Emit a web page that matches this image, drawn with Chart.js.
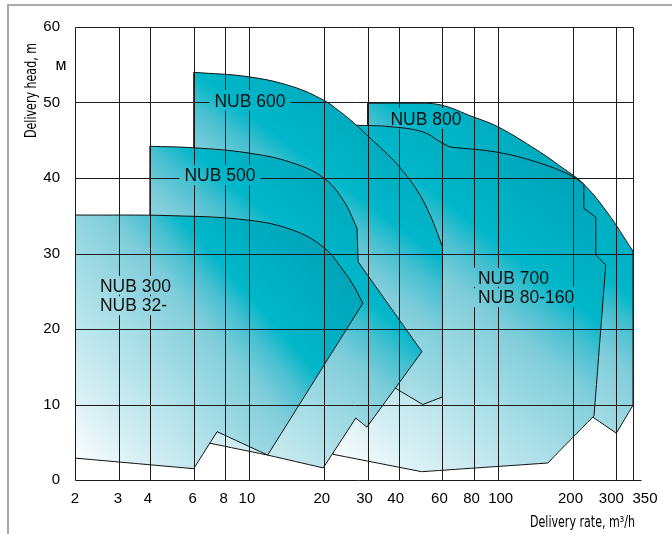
<!DOCTYPE html>
<html>
<head>
<meta charset="utf-8">
<script src="https://cdn.jsdelivr.net/npm/chart.js@4.4.1/dist/chart.umd.min.js"></script>
<style>
  html, body { margin: 0; padding: 0; background: #fff; }
  #wrap { position: relative; width: 672px; height: 534px; overflow: hidden; }
  #frame { position: absolute; left: 7px; top: 4px; width: 720px; height: 600px; border-left: 2px solid #aaa; border-top: 2px solid #aaa; }
  canvas { position: absolute; left: 0; top: 0; }
</style>
</head>
<body>
<div id="wrap"><div id="frame"></div><canvas id="chart" width="672" height="534"></canvas></div>
<script>
// axis ticks
const xTicks = [2, 3, 4, 6, 8, 10, 20, 30, 40, 60, 80, 100, 200, 300, 350];
const yTicks = [0, 10, 20, 30, 40, 50, 60];

// operating fields, closed outlines (delivery rate m3/h, delivery head m)
// *Smooth = indices of points lying on a curved part of the outline
const nub300Q = [2, 5, 10, 15, 20, 23.9, 26.5, 28.7, 11.9, 7.45, 6, 2, 2];
const nub300H = [35.1, 35.0, 34.4, 33.1, 30.8, 27.8, 25.6, 23.4, 3.3, 6.4, 1.5, 2.9, 35.1];
const nub300Smooth = [1, 2, 3, 4, 5, 6];

const nub500Q = [4, 6, 10, 15, 20, 23.9, 27.2, 27.5, 49.6, 29.8, 26.9, 19.9, 11.9, 6.9, 4, 4];
const nub500H = [44.2, 44.0, 43.3, 42.0, 40.0, 37.1, 33.4, 28.9, 17.0, 7.0, 8.2, 1.6, 3.3, 4.9, 5, 44.2];
const nub500Smooth = [1, 2, 3, 4, 5];

const nub600Q = [6, 10, 15, 20, 22.8, 26.2, 30, 34.6, 39.7, 47.4, 53.5, 60, 60, 50, 38.2, 25, 6, 6];
const nub600H = [54.0, 53.4, 52.1, 50.3, 49.0, 47.4, 45.6, 43.7, 41.7, 38.4, 35.1, 30.9, 11.0, 10.0, 12.3, 10, 10, 54.0];
const nub600Smooth = [1, 2, 3, 4, 5, 6, 7, 8, 9, 10];

const nub700Q = [22, 26.7, 36.9, 50.1, 58.6, 64.3, 100, 143.8, 195.2, 222, 222, 248, 248, 272, 244, 159, 49.5, 21.8, 22];
const nub700H = [46.6, 47.0, 46.8, 46.1, 44.8, 44.1, 43.4, 42.1, 40.4, 39.2, 36.0, 34.8, 29.8, 28.5, 8.5, 2.25, 1.1, 3.4, 46.6];
const nub700Smooth = [2, 3, 4, 6, 7, 8];

const nub800Q = [30, 45, 58.6, 79.6, 100, 143.8, 183, 220, 275, 350, 350, 300, 242, 100, 30, 30];
const nub800H = [49.9, 49.9, 49.7, 48.1, 46.8, 43.7, 41.3, 39.3, 35.5, 30.3, 9.9, 6.2, 8.3, 20, 30, 49.9];
const nub800Smooth = [1, 2, 3, 4, 5, 6, 7, 8];

// field labels (front to back, same order as datasets)
const fieldNames = ['NUB 300', 'NUB 500', 'NUB 600', 'NUB 700', 'NUB 800'];
const labelLines = [['NUB 300', 'NUB 32-'], ['NUB 500'], ['NUB 600'], ['NUB 700', 'NUB 80-160'], ['NUB 800']];
const labelQ = [2.52, 7.65, 10.1, 83.3, 51.5];
const labelH = [25.7, 40.4, 50.3, 26.75, 47.9];
const labelAlign = ['left', 'center', 'center', 'left', 'center'];

const fields = [
  [nub300Q, nub300H, nub300Smooth],
  [nub500Q, nub500H, nub500Smooth],
  [nub600Q, nub600H, nub600Smooth],
  [nub700Q, nub700H, nub700Smooth],
  [nub800Q, nub800H, nub800Smooth]
];

const tickNudge = { 3: -1, 4: -2, 6: -1, 8: -1, 10: -2, 20: -2, 30: -3, 40: -3, 60: -3, 80: -2, 100: 3, 200: -2, 300: -5, 350: 12 };
const mainFont = '"Liberation Sans", Arial, sans-serif';
const narrowFont = '"Liberation Sans Narrow", "DejaVu Sans Condensed", "Liberation Sans", sans-serif';

// corner points are doubled so the spline keeps them sharp
function outline(q, h, smooth) {
  const pts = [];
  q.forEach((v, i) => {
    pts.push({ x: v, y: h[i] });
    if (!smooth.includes(i)) pts.push({ x: v, y: h[i] });
  });
  return pts;
}

// gradient fill under every outline, drawn just before its border
const regionFill = {
  id: 'regionFill',
  beforeDatasetDraw(chart, args) {
    const meta = args.meta;
    const pts = meta.data;
    if (!pts.length) return;
    const ctx = chart.ctx;
    let x0 = Infinity, x1 = -Infinity, y0 = Infinity, y1 = -Infinity;
    pts.forEach(p => {
      x0 = Math.min(x0, p.x); x1 = Math.max(x1, p.x);
      y0 = Math.min(y0, p.y); y1 = Math.max(y1, p.y);
    });
    const g = ctx.createLinearGradient(x0, y1, x1, y0);
    g.addColorStop(0, '#ffffff');
    g.addColorStop(0.15, '#d6eff3');
    g.addColorStop(0.32, '#ade0e8');
    g.addColorStop(0.5, '#7fcdda');
    g.addColorStop(0.58, '#45c0d0');
    g.addColorStop(0.64, '#00b7c9');
    g.addColorStop(0.82, '#00a8bc');
    g.addColorStop(1, '#0096ad');
    ctx.save();
    ctx.beginPath();
    const line = meta.dataset;
    line.updateControlPoints(chart.chartArea, 'x');
    line.path(ctx);
    ctx.closePath();
    ctx.fillStyle = g;
    ctx.fill();
    ctx.restore();
  }
};

function fitText(ctx, text, x, y, width, rotate) {
  ctx.save();
  ctx.translate(x, y);
  if (rotate) ctx.rotate(-Math.PI / 2);
  const w = ctx.measureText(text).width;
  ctx.scale(width / w, 1);
  ctx.textAlign = 'center';
  ctx.fillText(text, 0, 0);
  ctx.restore();
}

// grid on top of fields with gaps behind the labels, then texts
const overlay = {
  id: 'overlay',
  afterDatasetsDraw(chart) {
    const ctx = chart.ctx;
    const xs = chart.scales.x, ys = chart.scales.y;
    const size = 17.5;
    ctx.save();
    ctx.font = size + 'px ' + mainFont;
    const boxes = [];
    labelLines.forEach((lines, i) => {
      const cx = xs.getPixelForValue(labelQ[i]);
      const cy = ys.getPixelForValue(labelH[i]);
      const lh = size * 1.08;
      lines.forEach((t, k) => {
        const w = ctx.measureText(t).width;
        const left = labelAlign[i] === 'left' ? cx : cx - w / 2;
        const base = cy + size * 0.36 + k * lh;
        boxes.push({ t, left, base, w });
      });
    });

    ctx.beginPath();
    ctx.rect(0, 0, chart.width, chart.height);
    boxes.forEach(b => ctx.rect(b.left - 5, b.base - size * 0.72 - 4, b.w + 10, size * 0.72 + 8));
    ctx.clip('evenodd');
    ctx.strokeStyle = '#1c1c1c';
    ctx.lineWidth = 1;
    const top = Math.round(ys.getPixelForValue(60)) + 0.5;
    const bottom = Math.round(ys.getPixelForValue(0)) + 0.5;
    const left = Math.round(xs.getPixelForValue(2)) + 0.5;
    const right = Math.round(xs.getPixelForValue(350)) + 0.5;
    ctx.beginPath();
    xTicks.forEach(v => {
      const px = Math.round(xs.getPixelForValue(v)) + 0.5;
      ctx.moveTo(px, top); ctx.lineTo(px, bottom);
    });
    yTicks.forEach(v => {
      const py = Math.round(ys.getPixelForValue(v)) + 0.5;
      ctx.moveTo(left, py); ctx.lineTo(v === 0 ? right + 8 : right, py);
    });
    ctx.stroke();
    ctx.restore();

    ctx.save();
    ctx.fillStyle = '#111';
    ctx.font = size + 'px ' + mainFont;
    ctx.textAlign = 'left';
    ctx.textBaseline = 'alphabetic';
    boxes.forEach(b => ctx.fillText(b.t, b.left, b.base));

    // x tick labels
    ctx.fillStyle = '#000';
    ctx.font = '15px ' + mainFont;
    ctx.textAlign = 'center';
    ctx.textBaseline = 'middle';
    xTicks.forEach(v => ctx.fillText(String(v), xs.getPixelForValue(v) + (tickNudge[v] || 0), 499));

    // axis titles
    ctx.font = '15.5px ' + narrowFont;
    fitText(ctx, 'Delivery head, m', 32, 90.5, 95, true);
    fitText(ctx, 'Delivery rate, m³/h', 582.5, 522.5, 105, false);
    ctx.font = '16px ' + mainFont;
    ctx.textAlign = 'center';
    ctx.fillText('м', 61, 66);
    ctx.restore();
  }
};

new Chart(document.getElementById('chart'), {
  type: 'scatter',
  data: {
    datasets: fields.map((f, i) => ({
      label: fieldNames[i],
      data: outline(f[0], f[1], f[2]),
      showLine: true,
      fill: false,
      tension: 0.4,
      borderColor: '#111',
      borderWidth: 1,
      pointRadius: 0,
      pointHoverRadius: 0
    }))
  },
  options: {
    responsive: false,
    animation: false,
    events: [],
    layout: { padding: { top: 27, right: 39, left: 0, bottom: 0 } },
    plugins: { legend: { display: false }, tooltip: { enabled: false } },
    scales: {
      x: {
        type: 'logarithmic', min: 2, max: 350,
        grid: { display: false }, border: { display: false },
        ticks: { display: false },
        afterFit(s) { s.height = 54; }
      },
      y: {
        type: 'linear', min: 0, max: 60,
        grid: { display: false }, border: { display: false },
        ticks: { stepSize: 10, padding: 7, color: '#000', font: { family: mainFont, size: 15 } },
        afterFit(s) { s.width = 75; }
      }
    }
  },
  plugins: [regionFill, overlay]
});
</script>
</body>
</html>
